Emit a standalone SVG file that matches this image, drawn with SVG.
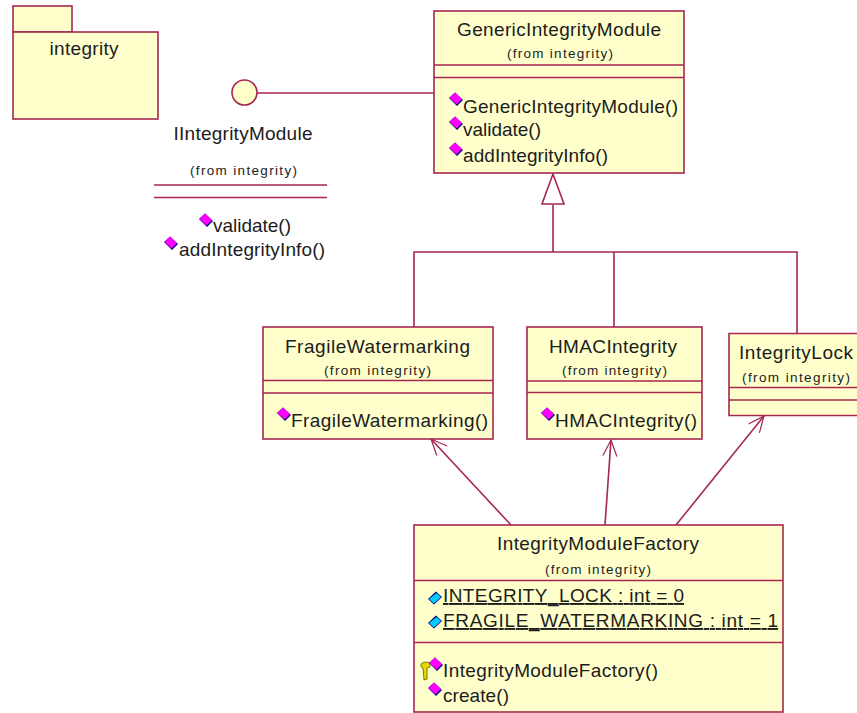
<svg xmlns="http://www.w3.org/2000/svg" width="857" height="713" viewBox="0 0 857 713">
<defs>
<g id="op"><path d="M-1,-6.500 L7,1 L1,7 L-7,-1 Z" fill="#000080"/><path d="M-1,-6.500 L6,0 L0.500,5.500 L-6.500,-1 Z" fill="#ff00ff"/></g>
<g id="attr"><path d="M1,-6.500 L7,-1 L-1,6.500 L-7,1 Z" fill="#000080"/><path d="M1.500,-5 L6,-1 L-1,5.500 L-6,1 Z" fill="#00ccff"/></g>
<marker id="open" markerWidth="20" markerHeight="20" refX="17" refY="8" orient="auto" markerUnits="userSpaceOnUse"><path d="M1,1 L17,8 L1,15" fill="none" stroke="#a6274f" stroke-width="1.2"/></marker>
</defs>
<style>
.box{fill:#ffffcc;stroke:#a6274f;stroke-width:1.6}
.l{stroke:#a6274f;stroke-width:1.6;fill:none}
text{font-family:"Liberation Sans",Arial,sans-serif;fill:#1c1c1c;font-size:19px}
.s{font-size:13.500px}
.u{text-decoration:underline}
</style>
<rect width="857" height="713" fill="#ffffff"/>
<g id="connectors">
<path class="l" d="M257,93 H434"/>
<path class="l" d="M553,205 V252 M414,327 V252 H797 V333 M614,252 V327"/>
<path d="M553,174 L564,204 H542 Z" fill="#ffffff" stroke="#a6274f" stroke-width="1.600"/>
<path class="l" marker-end="url(#open)" d="M511,525 L431,439"/>
<path class="l" marker-end="url(#open)" d="M605,525 L611,440"/>
<path class="l" marker-end="url(#open)" d="M676,525 L764,416"/>
</g>
<g id="pkg-integrity">
<rect class="box" x="13" y="6" width="59" height="26"/>
<rect class="box" x="13" y="32" width="145" height="87"/>
<text x="49.500" y="55" textLength="69">integrity</text>
</g>
<g id="IIntegrityModule">
<circle class="box" cx="244.500" cy="92.500" r="12.500"/>
<text x="173.500" y="140" textLength="139">IIntegrityModule</text>
<text class="s" x="190" y="175" textLength="107">(from integrity)</text>
<path class="l" d="M154,185 H327 M154,197.500 H327"/>
<use href="#op" x="206" y="220"/><text x="213" y="232" textLength="78">validate()</text>
<use href="#op" x="171" y="243"/><text x="179" y="256" textLength="146">addIntegrityInfo()</text>
</g>
<g id="GenericIntegrityModule">
<rect class="box" x="434" y="11" width="250" height="162"/>
<path class="l" d="M434,65 H684 M434,77.500 H684"/>
<text x="457" y="36" textLength="204">GenericIntegrityModule</text>
<text class="s" x="507" y="58" textLength="106">(from integrity)</text>
<use href="#op" x="456" y="99"/><text x="463" y="113" textLength="215">GenericIntegrityModule()</text>
<use href="#op" x="456" y="123"/><text x="463" y="136" textLength="78">validate()</text>
<use href="#op" x="456" y="149"/><text x="463" y="162" textLength="145">addIntegrityInfo()</text>
</g>
<g id="FragileWatermarking">
<rect class="box" x="263" y="327" width="230" height="112"/>
<path class="l" d="M263,391 H493 M263,403.500 H493" transform="translate(0,-10.500)"/>
<text x="285" y="353" textLength="185">FragileWatermarking</text>
<text class="s" x="324" y="375" textLength="107">(from integrity)</text>
<use href="#op" x="284" y="414"/><text x="291" y="427" textLength="197">FragileWatermarking()</text>
</g>
<g id="HMACIntegrity">
<rect class="box" x="527" y="327" width="175" height="112"/>
<path class="l" d="M527,381 H702 M527,392.500 H702"/>
<text x="549" y="353" textLength="128">HMACIntegrity</text>
<text class="s" x="562" y="375" textLength="105">(from integrity)</text>
<use href="#op" x="548" y="414"/><text x="555" y="427" textLength="142">HMACIntegrity()</text>
</g>
<g id="IntegrityLock">
<path class="box" d="M857,333.500 H729 V415.500 H857"/>
<path class="l" d="M729,387.500 H857 M729,400 H857"/>
<text x="739" y="359" textLength="114">IntegrityLock</text>
<text class="s" x="742" y="382" textLength="108">(from integrity)</text>
</g>
<g id="IntegrityModuleFactory">
<rect class="box" x="414" y="525" width="369" height="187"/>
<path class="l" d="M414,580.500 H783 M414,642.500 H783"/>
<text x="497" y="550" textLength="202">IntegrityModuleFactory</text>
<text class="s" x="545" y="574" textLength="106">(from integrity)</text>
<use href="#attr" x="435" y="598"/><text class="u" x="443" y="602" textLength="241">INTEGRITY_LOCK : int = 0</text>
<use href="#attr" x="435" y="622"/><text class="u" x="443" y="627" textLength="335">FRAGILE_WATERMARKING : int = 1</text>
<path d="M421,664 Q424,661 430,663 L430,667 L427,668 V679 L424,680 L423,668 Q420,667 421,664 Z" fill="#e8d800" stroke="#5a5a00" stroke-width="0.800"/>
<use href="#op" x="436" y="664"/><text x="443" y="677" textLength="215">IntegrityModuleFactory()</text>
<use href="#op" x="435" y="689"/><text x="443" y="702" textLength="66">create()</text>
</g>
</svg>
